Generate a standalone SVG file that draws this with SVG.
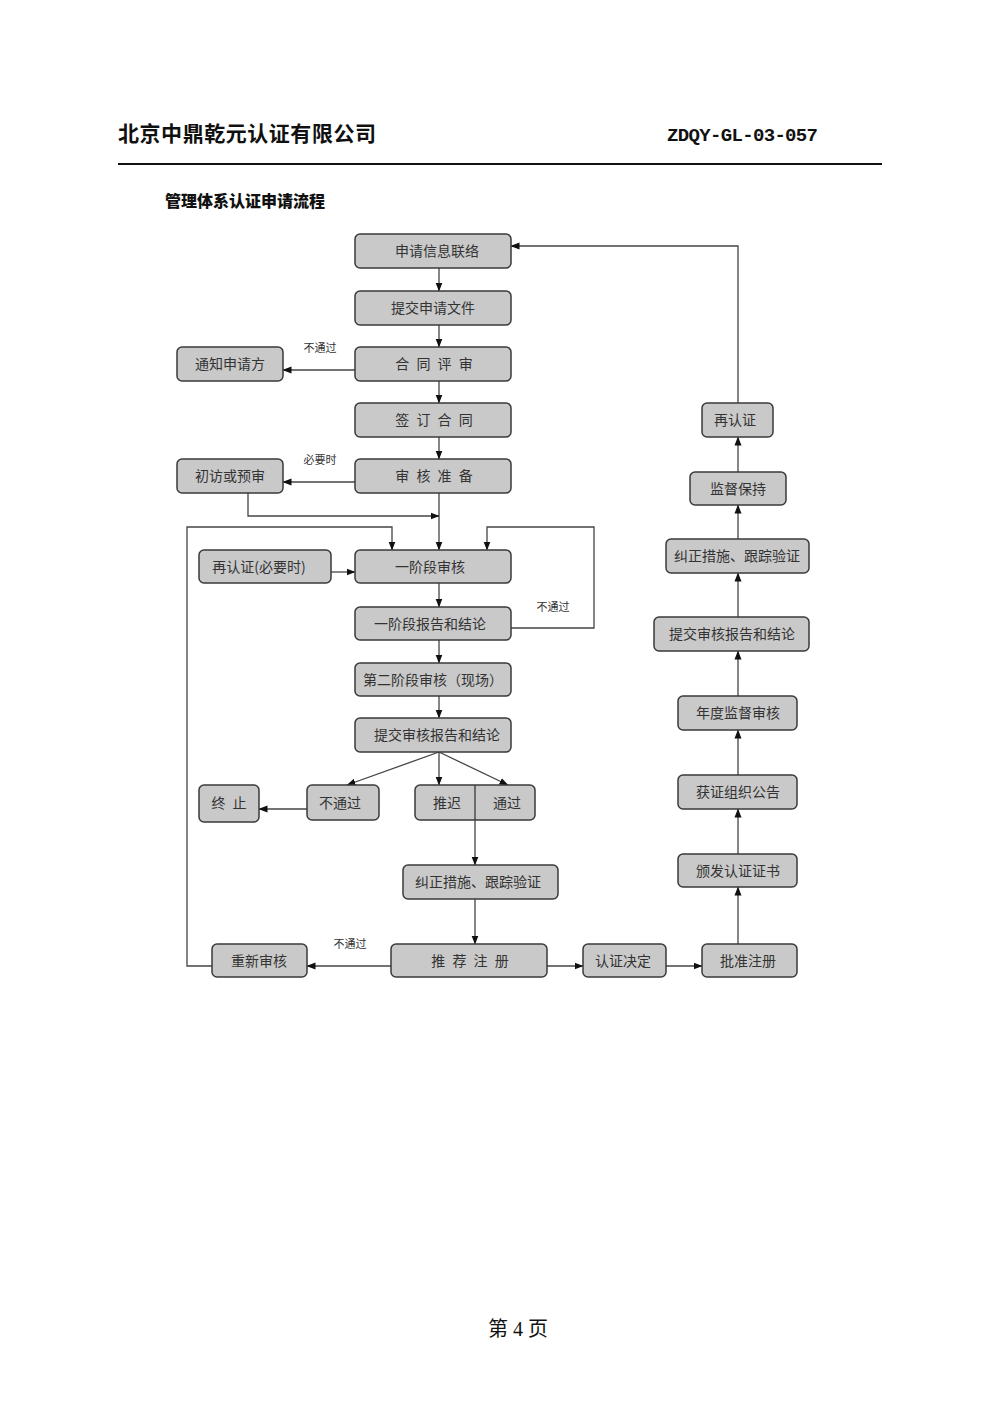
<svg xmlns="http://www.w3.org/2000/svg" width="1000" height="1419" viewBox="0 0 1000 1419">
<defs>
<marker id="ah" markerWidth="9" markerHeight="8" refX="8.5" refY="4" orient="auto" markerUnits="userSpaceOnUse">
<path d="M0,0.5 L9,4 L0,7.5 Z" fill="#111"/>
</marker>
<style>
.box{fill:#c9c9c9;stroke:#3a3a3a;stroke-width:1.5}
.t{font-family:"Noto Sans CJK SC","Noto Sans",sans-serif;font-size:14px;fill:#333;text-anchor:middle}
.sp{letter-spacing:2px}
.lbl{font-family:"Noto Sans CJK SC","Noto Sans",sans-serif;font-size:11px;fill:#333;text-anchor:middle}
.c{fill:none;stroke:#444;stroke-width:1.3}
.ca{fill:none;stroke:#444;stroke-width:1.3;marker-end:url(#ah)}
</style>
</defs>
<rect width="1000" height="1419" fill="#fff"/>
<g id="header">
<text x="118" y="141" font-family="Noto Sans CJK SC,sans-serif" font-size="21" font-weight="bold" fill="#111" textLength="258">北京中鼎乾元认证有限公司</text>
<text x="667" y="141" font-family="Liberation Mono,monospace" font-size="19" font-weight="bold" fill="#111" textLength="151">ZDQY-GL-03-057</text>
<line x1="118" y1="164" x2="882" y2="164" stroke="#111" stroke-width="2"/>
<text x="165" y="207" font-family="Noto Sans CJK SC,sans-serif" font-size="16" font-weight="900" fill="#111">管理体系认证申请流程</text>
</g>
<g id="connectors">
<line class="ca" x1="439" y1="268" x2="439" y2="291"/>
<line class="ca" x1="439" y1="325" x2="439" y2="347"/>
<line class="ca" x1="439" y1="381" x2="439" y2="403"/>
<line class="ca" x1="439" y1="437" x2="439" y2="459"/>
<line class="ca" x1="355" y1="370" x2="283" y2="370"/>
<line class="ca" x1="355" y1="482" x2="283" y2="482"/>
<line class="ca" x1="439" y1="493" x2="439" y2="550"/>
<polyline class="ca" points="248,493 248,516 439,516"/>
<polyline class="ca" points="212,966 187,966 187,527 392,527 392,550"/>
<polyline class="ca" points="511,628 594,628 594,527 487,527 487,550"/>
<line class="ca" x1="331" y1="572" x2="355" y2="572"/>
<line class="ca" x1="439" y1="583" x2="439" y2="607"/>
<line class="ca" x1="439" y1="640" x2="439" y2="663"/>
<line class="ca" x1="439" y1="696" x2="439" y2="718"/>
<line class="ca" x1="439" y1="752" x2="347" y2="785"/>
<line class="ca" x1="439" y1="752" x2="439" y2="785"/>
<line class="ca" x1="439" y1="752" x2="508" y2="785"/>
<line class="ca" x1="307" y1="809" x2="259" y2="809"/>
<line class="ca" x1="475" y1="820" x2="475" y2="865"/>
<line class="ca" x1="475" y1="899" x2="475" y2="944"/>
<line class="ca" x1="391" y1="966" x2="307" y2="966"/>
<line class="ca" x1="547" y1="966" x2="583" y2="966"/>
<line class="ca" x1="666" y1="966" x2="702" y2="966"/>
<line class="ca" x1="738" y1="944" x2="738" y2="887"/>
<line class="ca" x1="738" y1="854" x2="738" y2="809"/>
<line class="ca" x1="738" y1="775" x2="738" y2="730"/>
<line class="ca" x1="738" y1="696" x2="738" y2="651"/>
<line class="ca" x1="738" y1="617" x2="738" y2="573"/>
<line class="ca" x1="738" y1="539" x2="738" y2="505"/>
<line class="ca" x1="738" y1="472" x2="738" y2="437"/>
<polyline class="ca" points="738,403 738,246 511,246"/>
<text class="lbl" x="320" y="352">不通过</text>
<text class="lbl" x="320" y="464">必要时</text>
<text class="lbl" x="553" y="611">不通过</text>
<text class="lbl" x="350" y="948">不通过</text>
</g>
<g id="n1"><rect class="box" x="355" y="234" width="156" height="34" rx="5"/><text class="t" x="437" y="256">申请信息联络</text></g>
<g id="n2"><rect class="box" x="355" y="291" width="156" height="34" rx="5"/><text class="t" x="433" y="313">提交申请文件</text></g>
<g id="n3"><rect class="box" x="355" y="347" width="156" height="34" rx="5"/><text class="t sp" x="435" y="369">合 同 评 审</text></g>
<g id="n4"><rect class="box" x="355" y="403" width="156" height="34" rx="5"/><text class="t sp" x="435" y="425">签 订 合 同</text></g>
<g id="n5"><rect class="box" x="355" y="459" width="156" height="34" rx="5"/><text class="t sp" x="435" y="481">审 核 准 备</text></g>
<g id="n6"><rect class="box" x="177" y="347" width="106" height="34" rx="5"/><text class="t" x="230" y="369">通知申请方</text></g>
<g id="n7"><rect class="box" x="177" y="459" width="106" height="34" rx="5"/><text class="t" x="230" y="481">初访或预审</text></g>
<g id="n8"><rect class="box" x="199" y="550" width="132" height="33" rx="5"/><text class="t" x="259" y="572">再认证(必要时)</text></g>
<g id="n9"><rect class="box" x="355" y="550" width="156" height="33" rx="5"/><text class="t" x="430" y="572">一阶段审核</text></g>
<g id="n10"><rect class="box" x="355" y="607" width="156" height="33" rx="5"/><text class="t" x="430" y="629">一阶段报告和结论</text></g>
<g id="n11"><rect class="box" x="355" y="663" width="156" height="33" rx="5"/><text class="t" x="433" y="685">第二阶段审核（现场）</text></g>
<g id="n12"><rect class="box" x="355" y="718" width="156" height="34" rx="5"/><text class="t" x="437" y="740">提交审核报告和结论</text></g>
<g id="n13"><rect class="box" x="199" y="785" width="60" height="37" rx="5"/><text class="t sp" x="230" y="808">终 止</text></g>
<g id="n14"><rect class="box" x="307" y="785" width="72" height="35" rx="5"/><text class="t" x="340" y="808">不通过</text></g>
<g id="n15"><rect class="box" x="415" y="785" width="120" height="35" rx="5"/><line x1="475" y1="785" x2="475" y2="820" stroke="#3a3a3a" stroke-width="1.3"/><text class="t" x="447" y="808">推迟</text><text class="t" x="507" y="808">通过</text></g>
<g id="n16"><rect class="box" x="403" y="865" width="155" height="34" rx="5"/><text class="t" x="478" y="887">纠正措施、跟踪验证</text></g>
<g id="n17"><rect class="box" x="212" y="944" width="95" height="33" rx="5"/><text class="t" x="259" y="966">重新审核</text></g>
<g id="n18"><rect class="box" x="391" y="944" width="156" height="33" rx="5"/><text class="t sp" x="471" y="966">推 荐 注 册</text></g>
<g id="n19"><rect class="box" x="583" y="944" width="83" height="33" rx="5"/><text class="t" x="623" y="966">认证决定</text></g>
<g id="n20"><rect class="box" x="702" y="944" width="95" height="33" rx="5"/><text class="t" x="748" y="966">批准注册</text></g>
<g id="n21"><rect class="box" x="678" y="854" width="119" height="33" rx="5"/><text class="t" x="738" y="876">颁发认证证书</text></g>
<g id="n22"><rect class="box" x="678" y="775" width="119" height="34" rx="5"/><text class="t" x="738" y="797">获证组织公告</text></g>
<g id="n23"><rect class="box" x="678" y="696" width="119" height="34" rx="5"/><text class="t" x="738" y="718">年度监督审核</text></g>
<g id="n24"><rect class="box" x="654" y="617" width="155" height="34" rx="5"/><text class="t" x="732" y="639">提交审核报告和结论</text></g>
<g id="n25"><rect class="box" x="666" y="539" width="143" height="34" rx="5"/><text class="t" x="737" y="561">纠正措施、跟踪验证</text></g>
<g id="n26"><rect class="box" x="690" y="472" width="96" height="33" rx="5"/><text class="t" x="738" y="494">监督保持</text></g>
<g id="n27"><rect class="box" x="702" y="403" width="71" height="34" rx="5"/><text class="t" x="735" y="425">再认证</text></g>
<g id="footer"><text x="518" y="1336" font-family="Liberation Serif,Noto Sans CJK SC,serif" font-size="20" fill="#111" text-anchor="middle">第 4 页</text></g>
</svg>
